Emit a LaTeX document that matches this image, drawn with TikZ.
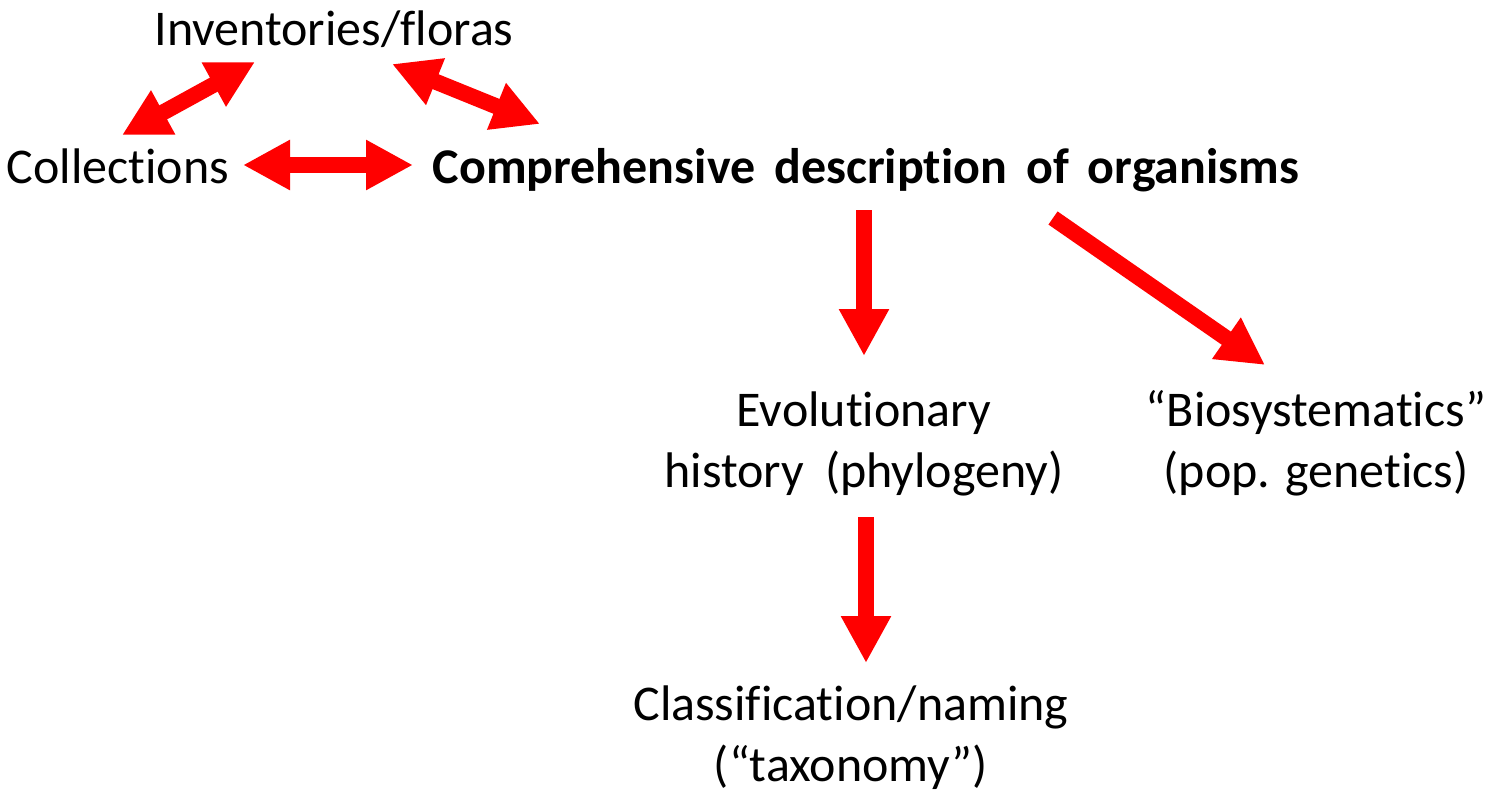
\documentclass[tikz,border=0pt]{standalone}
\usepackage{fontspec}
\setmainfont{Carlito}[Ligatures={NoCommon,NoRequired,NoContextual}]
\usetikzlibrary{arrows.meta}
\definecolor{arrowred}{RGB}{255,0,0}
\tikzset{
  label/.style={inner sep=0pt, anchor=base, align=center,
    font=\fontsize{50}{61}\selectfont},
  title/.style={label, font=\fontsize{50}{61}\selectfont\bfseries},
  bigarrow/.style={draw=arrowred, line width=16pt,
    -{Triangle[length=47pt, width=47pt]}},
  bothways/.style={draw=arrowred, line width=16pt,
    {Triangle[length=47pt, width=47pt]}-{Triangle[length=47pt, width=47pt]}},
}
\newcommand{\widegap}{\hspace{19pt}}
\newcommand{\midgap}{\hspace{21pt}}
\begin{document}
\begin{tikzpicture}[x=1pt, y=-1pt]
  \useasboundingbox (0,0) rectangle (1486,796);

  % labels (base anchor = baseline of the last line)
  \node[label] (inv)  at (334,45)  {Inventories/floras};
  \node[label] (coll) at (118,183) {Collections};
  \node[title] (comp) at (866,183)
    {Comprehensive\widegap description\widegap of\widegap organisms};
  \node[label] (evo)  at (864,487) {Evolutionary\\history\midgap(phylogeny)};
  \node[label] (bio)  at (1316,487) {``Biosystematics''\\(pop. genetics)};
  \node[label] (cls)  at (851,781) {Classification/naming\\(``taxonomy'')};

  % arrow end points
  \coordinate (coll-up)   at (122,135);
  \coordinate (inv-left)  at (255,62);
  \coordinate (inv-right) at (392,64);
  \coordinate (comp-up)   at (540,124);
  \coordinate (coll-east) at (243,165);
  \coordinate (comp-west) at (413,165);
  \coordinate (comp-down) at (864,210);
  \coordinate (evo-top)   at (864,356);
  \coordinate (comp-se)   at (1053,218);
  \coordinate (bio-top)   at (1265,365);
  \coordinate (evo-down)  at (866,517);
  \coordinate (cls-top)   at (866,663);

  % connectors
  \draw[bothways] (coll-up) -- (inv-left);
  \draw[bothways] (inv-right) -- (comp-up);
  \draw[bothways] (coll-east) -- (comp-west);
  \draw[bigarrow] (comp-down) -- (evo-top);
  \draw[bigarrow] (comp-se) -- (bio-top);
  \draw[bigarrow] (evo-down) -- (cls-top);
\end{tikzpicture}
\end{document}
